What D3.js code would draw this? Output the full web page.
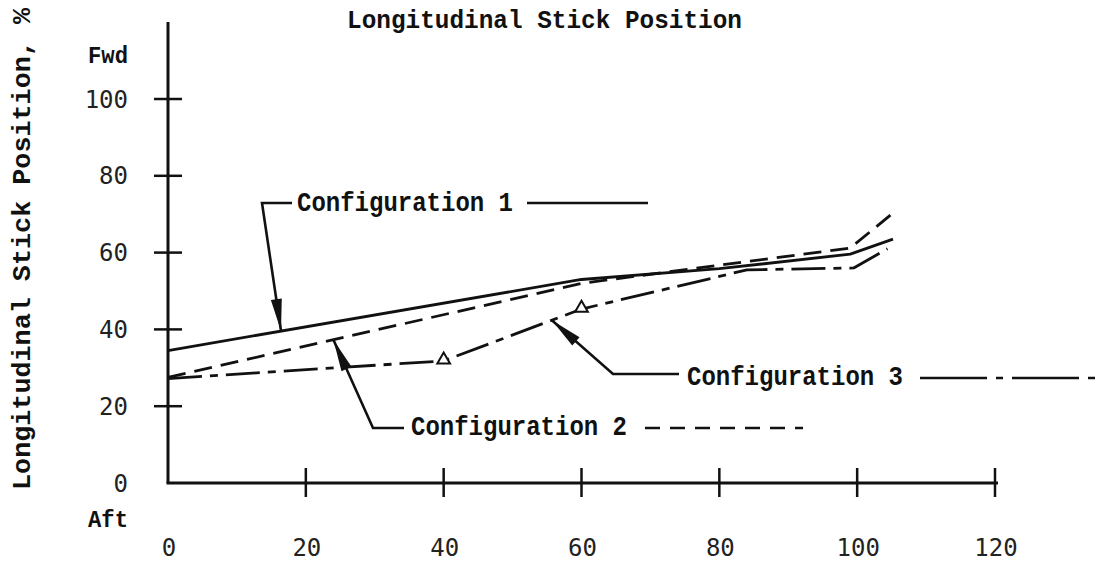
<!DOCTYPE html>
<html>
<head>
<meta charset="utf-8">
<script src="https://cdn.jsdelivr.net/npm/d3@7"></script>
<style>
  html, body { margin: 0; padding: 0; background: #fff; }
  svg { display: block; }
</style>
</head>
<body>
<svg id="chart" width="1106" height="561"></svg>
<script>
// Tick values
const xTicks = [0, 20, 40, 60, 80, 100, 120];
const yTicks = [0, 20, 40, 60, 80, 100];

// Configuration 1 (solid)
const config1X = [0, 60, 80, 99, 105.2];
const config1Y = [34.5, 53, 55.8, 59.6, 63.5];

// Configuration 2 (dashed)
const config2X = [0, 60, 99, 105.2];
const config2Y = [27.5, 52, 61.2, 70.3];

// Configuration 3 (dash-dot, with triangle test points)
const config3X = [0, 40, 60, 84, 99.5, 104.4];
const config3Y = [27.2, 31.8, 45.3, 55.5, 56, 61];
const config3MarkIdx = [1, 2];

// Label names and where each arrow touches its curve
const configNames = ["Configuration 1", "Configuration 2", "Configuration 3"];
const arrowX = [16.4, 24, 55.7];
const arrowY = [39.6, 37.3, 42.4];

const svg = d3.select("#chart");
const x = d3.scaleLinear().domain([0, 120]).range([168, 995]);
const y = d3.scaleLinear().domain([0, 100]).range([483, 99]);

const ink = "#111";
const monoBold = "'Liberation Mono', 'Courier New', monospace";
const numFont = "'DejaVu Sans Mono', monospace";

// Title
svg.append("text")
  .attr("x", 347).attr("y", 28)
  .attr("textLength", 395).attr("lengthAdjust", "spacingAndGlyphs")
  .style("font-family", monoBold).style("font-weight", "bold")
  .style("font-size", "26px").attr("fill", ink)
  .text("Longitudinal Stick Position");

// Y axis title
svg.append("text")
  .attr("transform", "translate(30,490) rotate(-90)")
  .attr("textLength", 482).attr("lengthAdjust", "spacingAndGlyphs")
  .style("font-family", monoBold).style("font-weight", "bold")
  .style("font-size", "26px").attr("fill", ink)
  .text("Longitudinal Stick Position, %");

// Axes
const axes = svg.append("g").attr("stroke", ink).attr("stroke-width", 3).attr("fill", "none");
axes.append("line").attr("x1", x(0)).attr("x2", x(0)).attr("y1", 22).attr("y2", y(0));
axes.append("line").attr("x1", x(0) - 1.5).attr("x2", x(120) + 3).attr("y1", y(0)).attr("y2", y(0));

axes.selectAll(".yt").data(yTicks.filter(d => d > 0)).enter().append("line")
  .attr("x1", x(0) - 14).attr("x2", x(0) + 14)
  .attr("y1", d => y(d)).attr("y2", d => y(d)).attr("stroke-width", 2.5);
axes.selectAll(".xt").data(xTicks.filter(d => d > 0)).enter().append("line")
  .attr("x1", d => x(d)).attr("x2", d => x(d))
  .attr("y1", y(0) - 15).attr("y2", y(0) + 14).attr("stroke-width", 2.5);

// Tick labels
svg.selectAll(".yl").data(yTicks).enter().append("text")
  .attr("x", 128).attr("y", d => y(d)).attr("dy", "0.36em")
  .attr("text-anchor", "end")
  .style("font-family", numFont).style("font-size", "24px").attr("fill", "#222")
  .text(d => d);
svg.selectAll(".xl").data(xTicks).enter().append("text")
  .attr("x", d => x(d) + 1).attr("y", 556)
  .attr("text-anchor", "middle")
  .style("font-family", numFont).style("font-size", "24px").attr("fill", "#222")
  .text(d => d);

svg.append("text").attr("x", 128).attr("y", 63).attr("text-anchor", "end")
  .attr("textLength", 40).attr("lengthAdjust", "spacingAndGlyphs")
  .style("font-family", monoBold).style("font-weight", "bold").style("font-size", "23px")
  .attr("fill", ink).text("Fwd");
svg.append("text").attr("x", 128).attr("y", 527).attr("text-anchor", "end")
  .attr("textLength", 40).attr("lengthAdjust", "spacingAndGlyphs")
  .style("font-family", monoBold).style("font-weight", "bold").style("font-size", "23px")
  .attr("fill", ink).text("Aft");

// Curves
const line = d3.line().x(d => x(d[0])).y(d => y(d[1]));
const dashes = [null, "18,9", "34,8,8,8"];
const series = [
  d3.zip(config1X, config1Y),
  d3.zip(config2X, config2Y),
  d3.zip(config3X, config3Y)
];
series.forEach((pts, i) => {
  svg.append("path").datum(pts).attr("d", line)
    .attr("fill", "none").attr("stroke", ink).attr("stroke-width", 2.8)
    .attr("stroke-linejoin", "round")
    .attr("stroke-dasharray", dashes[i]);
});

// Triangle test points on configuration 3
svg.selectAll(".mk").data(config3MarkIdx).enter().append("path")
  .attr("d", d3.symbol().type(d3.symbolTriangle).size(70))
  .attr("transform", i => `translate(${x(config3X[i])},${y(config3Y[i]) - 1})`)
  .attr("fill", "#fff").attr("stroke", ink).attr("stroke-width", 2);

// Callouts: elbow, short horizontal run, label text, key sample
const callouts = [
  { elbow: [262, 203], run: 292, tx: 297, ty: 211, sample: [527, 648, 203], dash: null },
  { elbow: [373, 428], run: 404, tx: 411, ty: 435, sample: [645, 803, 428], dash: "15,10" },
  { elbow: [613, 374], run: 679, tx: 687, ty: 385, sample: [920, 1100, 378], dash: "67,9,7,9" }
];

callouts.forEach((c, i) => {
  const tip = [x(arrowX[i]), y(arrowY[i])];
  const g = svg.append("g");
  // leader
  g.append("polyline")
    .attr("points", [[c.run, c.elbow[1]], c.elbow, tip].map(p => p.join(",")).join(" "))
    .attr("fill", "none").attr("stroke", ink).attr("stroke-width", 2.6);
  // arrowhead
  const dx = tip[0] - c.elbow[0], dy = tip[1] - c.elbow[1];
  const len = Math.hypot(dx, dy), ux = dx / len, uy = dy / len;
  const L = 32, W = 5.5;
  const bx = tip[0] - ux * L, by = tip[1] - uy * L;
  g.append("path")
    .attr("d", `M${tip[0]},${tip[1]}L${bx - uy * W},${by + ux * W}L${bx + uy * W},${by - ux * W}Z`)
    .attr("fill", ink);
  // label
  g.append("text").attr("x", c.tx).attr("y", c.ty)
    .attr("textLength", 216).attr("lengthAdjust", "spacingAndGlyphs")
    .style("font-family", monoBold).style("font-weight", "bold").style("font-size", "27px")
    .attr("fill", ink).text(configNames[i]);
  // key sample
  g.append("line")
    .attr("x1", c.sample[0]).attr("x2", c.sample[1])
    .attr("y1", c.sample[2]).attr("y2", c.sample[2])
    .attr("stroke", ink).attr("stroke-width", 2.6)
    .attr("stroke-dasharray", c.dash);
});
</script>
</body>
</html>
